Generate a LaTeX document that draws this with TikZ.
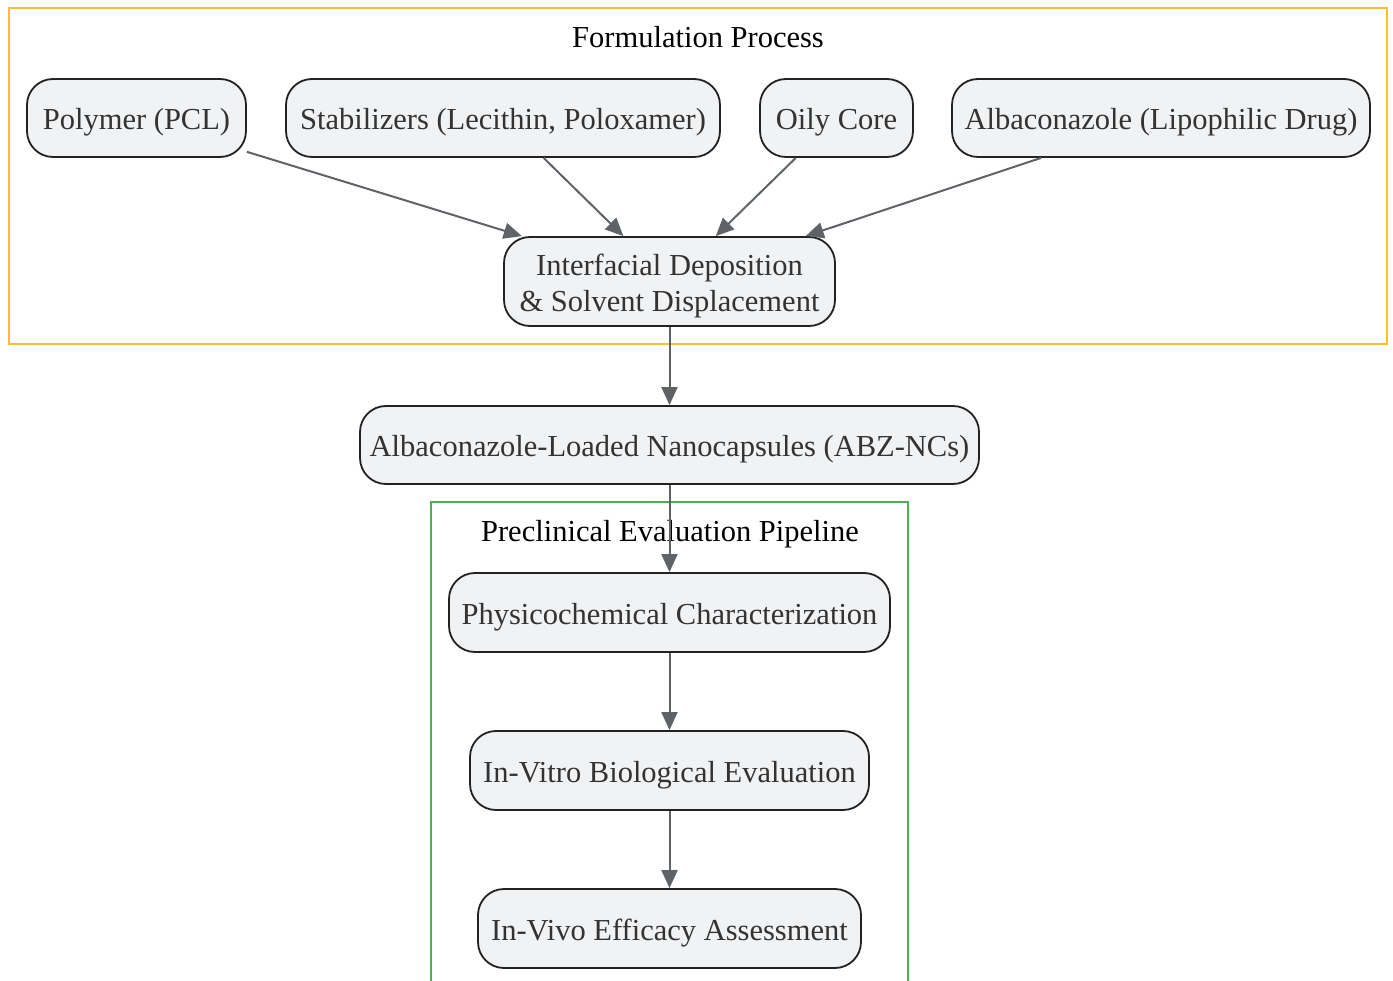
\documentclass[tikz,border=0pt]{standalone}
\usepackage{fontspec}
\setmainfont{Liberation Serif}
\usetikzlibrary{arrows.meta}
\definecolor{nodefill}{HTML}{F1F2F4}
\definecolor{nodeborder}{HTML}{222222}
\definecolor{textcol}{HTML}{333333}
\definecolor{arrowcol}{HTML}{5F6368}
\definecolor{ylw}{HTML}{FBC02D}
\definecolor{grn}{HTML}{4CAF50}
\tikzset{
  proc/.style={draw=nodeborder, line width=1.8pt, fill=nodefill, rounded corners=26pt,
    inner sep=0pt, text=textcol, font=\fontsize{30.5}{36}\selectfont, align=center,
    text height=28pt, text depth=4pt},
  flow/.style={draw=arrowcol, line width=2pt, -{Triangle[length=18pt,width=16pt]}},
  frametitle/.style={font=\fontsize{30.5}{36}\selectfont, text=black, inner sep=0pt,
    text height=28pt, text depth=4pt},
  framebox/.style={line width=2pt}
}
\begin{document}
\begin{tikzpicture}[x=1pt,y=-1pt]
\useasboundingbox (0,0) rectangle (1393,981);
\clip (0,0) rectangle (1393,981);
% frames
\draw[framebox, draw=ylw] (9,8) rectangle (1387,344);
\draw[framebox, draw=grn] (431,502) rectangle (908,1010);
\node[frametitle] (t1) at (698,35.5) {Formulation Process};
% nodes
\node[proc, minimum width=219pt, minimum height=78pt] (poly) at (136.5,118) {Polymer (PCL)};
\node[proc, minimum width=434pt, minimum height=78pt] (stab) at (503,118) {Stabilizers (Lecithin, Poloxamer)};
\node[proc, minimum width=153pt, minimum height=78pt] (oily) at (836.5,118) {Oily Core};
\node[proc, minimum width=418pt, minimum height=78pt] (alba) at (1161,118) {Albaconazole (Lipophilic Drug)};
\node[proc, minimum width=331pt, minimum height=89pt, text height=64pt] (inter) at (669.5,281.5) {Interfacial Deposition\\\& Solvent Displacement};
\node[proc, minimum width=619pt, minimum height=78pt] (nano) at (669.5,445) {Albaconazole-Loaded Nanocapsules (ABZ-NCs)};
\node[proc, minimum width=441pt, minimum height=79pt] (phys) at (669.5,612.5) {Physicochemical Characterization};
\node[proc, minimum width=399pt, minimum height=79pt] (vitro) at (669.5,770.5) {In-Vitro Biological Evaluation};
\node[proc, minimum width=383pt, minimum height=79pt] (vivo) at (669.5,928.5) {In-Vivo Efficacy Assessment};
% edges
\draw[flow] (poly) -- (inter);
\draw[flow] (stab) -- (inter);
\draw[flow] (oily) -- (inter);
\draw[flow] (alba) -- (inter);
\draw[flow] (inter) -- (nano);
\node[frametitle] (t2) at (670,529.5) {Preclinical Evaluation Pipeline};
\draw[flow] (nano) -- (phys);
\draw[flow] (phys) -- (vitro);
\draw[flow] (vitro) -- (vivo);
\end{tikzpicture}
\end{document}
